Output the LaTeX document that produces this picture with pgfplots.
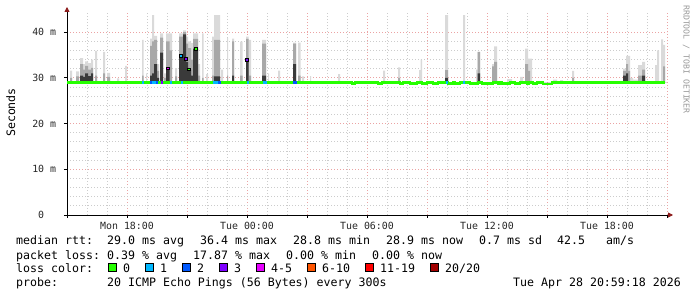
\documentclass[border=0pt]{standalone}
\usepackage{pgfplots}
\pgfplotsset{compat=1.18}
\usetikzlibrary{arrows.meta}
\usepackage{fontspec}
\setmainfont{DejaVu Sans Mono}
\definecolor{lossA}{HTML}{26FF00}
\definecolor{lossB}{HTML}{00B8FF}
\definecolor{lossC}{HTML}{0059FF}
\definecolor{lossD}{HTML}{7E00FF}
\definecolor{lossE}{HTML}{E600FF}
\definecolor{lossF}{HTML}{FF5500}
\definecolor{lossG}{HTML}{FF0000}
\definecolor{lossH}{HTML}{A10000}
\definecolor{smokeL}{HTML}{DADADA}
\definecolor{smokeM}{HTML}{A8A8A8}
\definecolor{smokeD}{HTML}{3A3A3A}
\definecolor{majgrid}{HTML}{EBA3A3}
\definecolor{mingrid}{HTML}{CCCCCC}
\definecolor{arrowred}{HTML}{8B1A1A}
\newcommand\legfont{\fontsize{11.6bp}{13bp}\selectfont}
\newcommand\tickfont{\fontsize{9.9bp}{11bp}\selectfont}
\begin{document}
\begin{tikzpicture}
\path[use as bounding box] (0bp,0bp) rectangle (697bp,297bp);
\begin{axis}[
  at={(67bp,82bp)}, anchor=south west,
  scale only axis, width=600bp, height=203bp,
  xmin=0, xmax=30, ymin=0, ymax=44.4,
  axis x line*=bottom, axis y line*=left,
  x axis line style={black, line width=0.8bp, -{Triangle[length=5bp,width=5bp,color=arrowred]}, shorten >=-6bp},
  y axis line style={black, line width=0.8bp, -{Triangle[length=5bp,width=5bp,color=arrowred]}, shorten >=-5bp},
  xtick={0,3,...,30},
  xticklabels={{},Mon 18:00,{},Tue 00:00,{},Tue 06:00,{},Tue 12:00,{},Tue 18:00,{}},
  ytick={0,10,20,30,40},
  yticklabels={0\hphantom{mm},10 m,20 m,30 m,40 m},
  minor x tick num=2, minor y tick num=4,
  grid=both,
  major grid style={majgrid, line width=0.8bp, dash pattern=on 1bp off 2bp},
  minor grid style={mingrid, line width=0.8bp, dash pattern=on 1bp off 2bp},
  tick align=outside, major tick length=3bp, minor tick length=0pt,
  tick style={black, line width=0.8bp},
  xticklabel style={font=\tickfont, anchor=base, inner sep=0pt, yshift=-12bp, text=black!85},
  yticklabel style={font=\tickfont, anchor=base east, inner sep=0pt, xshift=-7.7bp, yshift=-3.6bp, text=black!85},
]
% light smoke (max of the pings)
\addplot[const plot, fill=smokeL, draw=none] coordinates {
(0,29)
(0.15,31.6)(0.25,29)
(0.45,31.4)(0.6,29)
(0.65,34.3)(0.8,33.0)(0.9,33.6)(1.05,33.2)(1.2,34.0)(1.3,29)
(1.4,35.9)(1.5,29)
(1.8,35.7)(1.9,29)
(2.0,31.1)(2.15,29)
(2.5,29.9)(2.6,29)
(2.9,32.6)(3.0,29)
(3.75,38.3)(3.825,29)
(3.95,31.0)(4.0,29)
(4.15,38.6)(4.25,43.7)(4.35,39.2)(4.5,33.0)(4.6,29)
(4.65,39.7)(4.8,29)
(4.85,31.0)(4.95,39.7)(5.25,29)
(5.4,32.1)(5.5,29)
(5.6,39.7)(5.8,40.4)(5.95,39.0)(6.05,38.0)(6.2,37.6)(6.3,39.7)(6.55,33.0)(6.65,29)
(6.75,39.7)(6.825,29)
(6.95,30.8)(7.05,29)
(7.25,39.0)(7.35,43.7)(7.65,29)
(7.7,31.8)(7.8,29)
(8.0,38.7)(8.05,29)
(8.25,38.6)(8.35,29)
(8.65,37.9)(8.775,29)
(8.95,39.0)(9.075,29)(9.1,38.3)(9.2,29)
(9.75,38.3)(9.95,29)
(10.05,31.0)(10.1,29)
(10.55,31.6)(10.65,29)
(11.3,37.7)(11.45,29)
(11.55,37.7)(11.675,29)
(11.75,30.3)(11.85,29)
(12.15,30.4)(12.2,29)
(13.55,30.8)(13.65,29)
(15.8,31.6)(15.9,29)
(16.55,32.3)(16.65,29)
(17.6,31.7)(17.675,34.0)(17.75,29)
(18.9,43.7)(19.05,29)
(19.8,43.7)(19.9,29)
(20.45,31.8)(20.525,35.7)(20.65,29)
(21.25,33.0)(21.35,36.9)(21.5,29)
(22.0,29.7)(22.25,29)
(22.65,30.2)(22.8,29)
(22.9,36.4)(23.05,34.2)(23.25,29)
(24.3,29.6)(24.5,29)
(24.65,29.5)(24.8,29)
(25.25,31.5)(25.35,29)
(27.8,32.0)(27.95,34.8)(28.15,30.0)(28.3,29.6)(28.55,32.8)(28.75,33.5)(28.9,29)
(29.4,32.8)(29.5,36.0)(29.6,29)
(29.7,38.4)(29.8,37.2)(29.9,29)
(30,29)};
% medium smoke
\addplot[const plot, fill=smokeM, draw=none] coordinates {
(0,29)
(0.15,30.0)(0.25,29)
(0.45,30.3)(0.6,29)
(0.65,33.0)(0.8,31.8)(0.9,32.6)(1.05,31.8)(1.2,32.2)(1.3,29)
(1.4,30.5)(1.5,29)
(1.8,31.0)(1.9,29)
(2.0,30.2)(2.15,29)
(3.75,30.5)(3.825,29)
(4.15,37.0)(4.25,38.0)(4.35,38.3)(4.5,31.5)(4.6,29)
(4.65,38.8)(4.8,29)
(4.85,30.0)(4.95,38.0)(5.125,36.0)(5.25,29)
(5.4,30.3)(5.5,29)
(5.6,39.0)(5.8,40.0)(5.95,37.5)(6.05,36.5)(6.2,34.0)(6.3,38.5)(6.55,30.5)(6.65,29)
(6.75,30.0)(6.825,29)
(7.25,30.5)(7.35,38.3)(7.65,29)
(8.0,30.5)(8.05,29)
(8.25,38.0)(8.35,29)
(8.65,30.5)(8.775,29)
(8.95,38.5)(9.075,29)(9.1,30.5)(9.2,29)
(9.75,37.5)(9.95,29)
(11.3,37.5)(11.45,29)
(11.55,30.5)(11.675,29)
(16.55,30.0)(16.65,29)
(18.9,31.7)(19.05,29)
(20.525,35.7)(20.65,29)
(21.25,32.5)(21.35,33.5)(21.5,29)
(22.9,33.0)(23.05,31.5)(23.15,29)
(25.25,30.0)(25.35,29)
(27.8,31.5)(27.95,33.0)(28.05,31.5)(28.15,29)
(28.55,30.5)(28.75,31.8)(28.9,29)
(29.8,32.5)(29.9,29)
(30,29)};
% dark smoke
\addplot[const plot, fill=smokeD, draw=none] coordinates {
(0,29)
(0.65,30.5)(0.8,30.2)(0.9,31.0)(1.05,30.4)(1.2,31.0)(1.3,29)
(4.15,30.5)(4.25,31.0)(4.35,33.0)(4.5,30.0)(4.6,29)
(4.65,35.5)(4.8,29)
(4.95,32.1)(5.125,29)
(5.6,34.8)(5.8,39.5)(5.95,33.5)(6.05,31.8)(6.2,30.5)(6.3,36.4)(6.55,29)
(7.35,30.3)(7.65,29)
(8.25,30.5)(8.35,29)
(8.95,33.9)(9.075,29)
(9.75,30.5)(9.95,29)
(11.3,33.0)(11.45,29)
(18.9,30.0)(19.05,29)
(20.525,31.0)(20.65,29)
(27.8,30.5)(27.95,31.0)(28.05,29)
(28.75,30.5)(28.9,29)
(30,29)};
% median rtt, loss 0
\addplot[const plot, color=lossA, line width=2.4bp] coordinates {
(0,29.0)(14.25,28.75)(14.4,29.0)(15.55,28.75)(15.75,29.0)(16.65,28.75)(16.8,29)
(17.15,28.75)(17.5,29)(17.75,28.75)(18.0,29)(18.3,28.75)(18.55,29)(19.05,28.75)(19.3,29)
(19.4,28.75)(19.65,29)(20.15,28.75)(20.55,29)(20.75,28.75)(21.3,29)(21.55,28.75)(21.65,29)
(21.75,28.75)(22.15,29)(22.4,28.75)(22.65,29)(23.0,28.75)(23.1,29)(23.3,28.75)(23.5,29)
(23.8,28.6)(24.25,29)(29.9,29)};
% median rtt with loss 1
\addplot[color=lossB, line width=2.4bp, unbounded coords=jump] coordinates {
(3.75,29)(3.85,29)(3.9,nan)(4.25,29)(4.45,29)(4.5,nan)(5.15,29)(5.25,29)(5.3,nan)
(5.7,29)(5.8,29)(5.85,nan)(7.3,29)(7.55,29)(7.6,nan)(9.0,29)(9.1,29)(9.2,nan)
(9.8,29)(10.0,29)(10.1,nan)(18.95,29)(19.05,29)(19.1,nan)(19.8,29)(19.9,29)};
% median rtt with loss 2
\addplot[color=lossC, line width=2.4bp, unbounded coords=jump] coordinates {
(4.15,29)(4.25,29)(4.3,nan)(4.45,29)(4.55,29)(4.6,nan)(7.55,29)(7.7,29)(7.8,nan)(11.3,29)(11.5,29)};
% median rtt with loss 3
\addplot[color=lossD, line width=2.4bp] coordinates {(4.7,29)(4.8,29)};
% elevated medians
\addplot[only marks, mark=square*, mark size=1.4bp, mark options={draw=none, fill=lossE}] coordinates {(5.05,32.1)};
\addplot[only marks, mark=square*, mark size=1.4bp, mark options={draw=none, fill=lossB}] coordinates {(5.675,34.8)};
\addplot[only marks, mark=square*, mark size=1.4bp, mark options={draw=none, fill=lossD}] coordinates {(5.925,34.2)(9.0,33.9)};
\addplot[only marks, mark=square*, mark size=1.4bp, mark options={draw=none, fill=lossA}] coordinates {(6.1,31.9)(6.45,36.4)};
\end{axis}
% axis title and watermark
\node[rotate=90, anchor=base, inner sep=0pt, font=\legfont] at (15bp,184.5bp) {Seconds};
\node[rotate=-90, anchor=base west, inner sep=0pt, font=\fontsize{8.2bp}{9bp}\selectfont, text=black!40] at (683.5bp,292bp) {RRDTOOL / TOBI OETIKER};
% legend lines
\begin{scope}[every node/.style={anchor=base west, inner sep=0pt, font=\legfont}]
\node at (16bp,52bp) {median rtt:};
\node at (107bp,52bp) {29.0 ms avg};
\node at (200bp,52bp) {36.4 ms max};
\node at (293bp,52bp) {28.8 ms min};
\node at (386bp,52bp) {28.9 ms now};
\node at (479bp,52bp) {0.7 ms sd};
\node at (557bp,52bp) {42.5};
\node at (606bp,52bp) {am/s};
\node at (16bp,38bp) {packet loss:};
\node at (107bp,38bp) {0.39 \% avg};
\node at (193bp,38bp) {17.87 \% max};
\node at (286bp,38bp) {0.00 \% min};
\node at (372bp,38bp) {0.00 \% now};
\node at (16bp,24.3bp) {loss color:};
\node at (123bp,24.3bp) {0};
\node at (160bp,24.3bp) {1};
\node at (197bp,24.3bp) {2};
\node at (234bp,24.3bp) {3};
\node at (271bp,24.3bp) {4-5};
\node at (322bp,24.3bp) {6-10};
\node at (380bp,24.3bp) {11-19};
\node at (445bp,24.3bp) {20/20};
\node at (16bp,10.3bp) {probe:};
\node at (107bp,10.3bp) {20 ICMP Echo Pings (56 Bytes) every 300s};
\node at (513bp,10.3bp) {Tue Apr 28 20:59:18 2026};
\end{scope}
\begin{scope}[line width=0.8bp, draw=black]
\filldraw[fill=lossA] (108bp,25.5bp) rectangle ++(8bp,8bp);
\filldraw[fill=lossB] (145bp,25.5bp) rectangle ++(8bp,8bp);
\filldraw[fill=lossC] (182bp,25.5bp) rectangle ++(8bp,8bp);
\filldraw[fill=lossD] (219bp,25.5bp) rectangle ++(8bp,8bp);
\filldraw[fill=lossE] (256bp,25.5bp) rectangle ++(8bp,8bp);
\filldraw[fill=lossF] (307bp,25.5bp) rectangle ++(8bp,8bp);
\filldraw[fill=lossG] (365bp,25.5bp) rectangle ++(8bp,8bp);
\filldraw[fill=lossH] (430bp,25.5bp) rectangle ++(8bp,8bp);
\end{scope}
\end{tikzpicture}
\end{document}
